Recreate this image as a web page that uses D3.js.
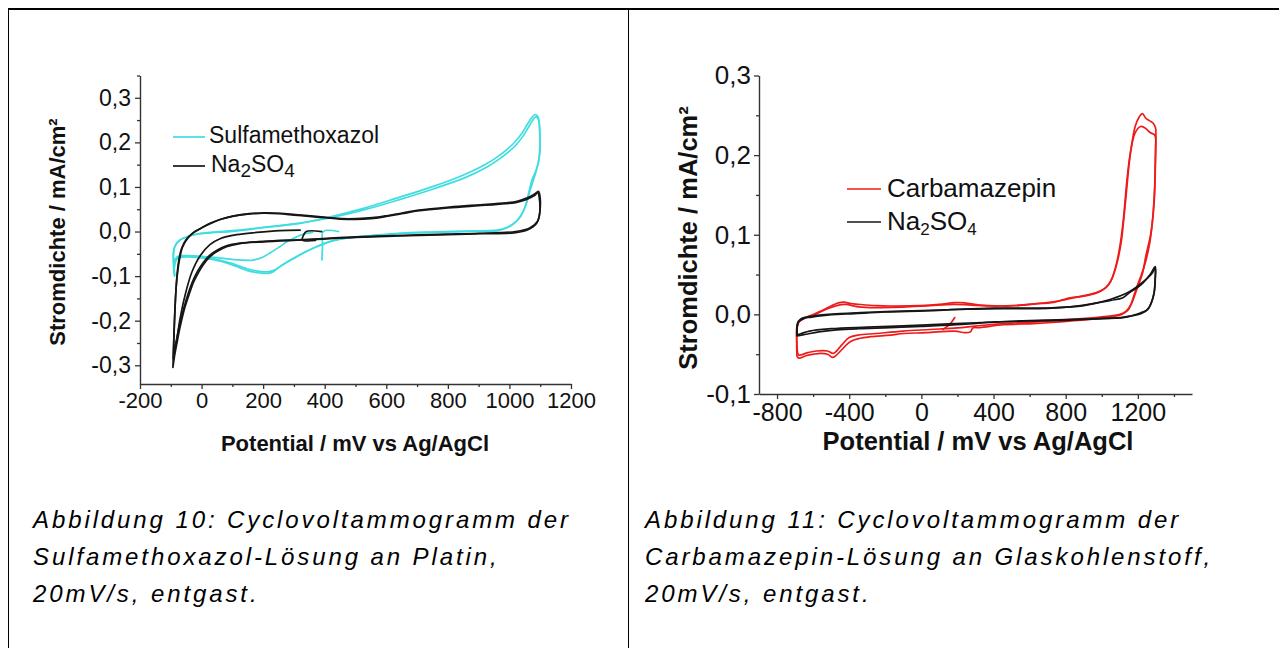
<!DOCTYPE html>
<html><head><meta charset="utf-8">
<script src="https://cdn.jsdelivr.net/npm/d3@7"></script>
<style>
body{margin:0;background:#fff}
svg{display:block}
text{font-family:"Liberation Sans",Arial,Helvetica,sans-serif}
</style>
</head><body>
<svg id="c" width="1279" height="648"></svg>
<script>
// ---------- Left panel (Platin) ----------
const leftXTicks = [-200, 0, 200, 400, 600, 800, 1000, 1200];
const leftXTickLabels = ["-200", "0", "200", "400", "600", "800", "1000", "1200"];
const leftXMinor = [-100, 100, 300, 500, 700, 900, 1100];
const leftYTicks = [-0.3, -0.2, -0.1, 0, 0.1, 0.2, 0.3];
const leftYTickLabels = ["-0,3", "-0,2", "-0,1", "0,0", "0,1", "0,2", "0,3"];
const leftYMinor = [-0.25, -0.15, -0.05, 0.05, 0.15, 0.25, 0.35];

// Sulfamethoxazol (E in mV, j in mA/cm²)
const smxStart = [[445, 0.0], [395, 0.0], [393, -0.03], [391, -0.064]];
const smxFirst = [[360, -0.002], [330, -0.006], [309, -0.012], [280, -0.022], [254, -0.034], [225, -0.047], [200, -0.057], [168, -0.064], [130, -0.064], [93, -0.062], [40, -0.058], [-15, -0.055], [-60, -0.054], [-80, -0.057], [-90, -0.068]];
const smxCycle1 = [[-88, -0.1], [-91, -0.08], [-92, -0.055], [-90, -0.04], [-82, -0.028], [-70, -0.019], [-45, -0.011], [-15, -0.006], [30, -0.003], [93, 0.0], [150, 0.004], [200, 0.009], [308, 0.017], [418, 0.033], [526, 0.052], [634, 0.075], [743, 0.099], [851, 0.127], [920, 0.15], [960, 0.167], [1014, 0.198], [1040, 0.22], [1057, 0.239], [1072, 0.255], [1083, 0.262], [1092, 0.258], [1097, 0.24],
  [1099, 0.2], [1099, 0.175], [1088, 0.14], [1073, 0.115], [1062, 0.085], [1051, 0.056], [1035, 0.033], [1014, 0.018], [990, 0.008], [960, 0.0015], [851, 0.0], [750, -0.002], [634, -0.005], [550, -0.01], [472, -0.015], [420, -0.022], [374, -0.034], [340, -0.045], [308, -0.057], [280, -0.068], [254, -0.079], [233, -0.09], [215, -0.094], [190, -0.093], [146, -0.087], [93, -0.073], [39, -0.063], [-15, -0.058], [-50, -0.057], [-69, -0.058], [-82, -0.064], [-87, -0.075], [-89, -0.09], [-88, -0.1]];
const smxCycle2 = [[-87, -0.098], [-90, -0.075], [-91, -0.05], [-88, -0.036], [-80, -0.025], [-66, -0.017], [-40, -0.01], [-10, -0.005], [40, -0.001], [100, 0.002], [160, 0.006], [220, 0.011], [320, 0.019], [420, 0.031], [530, 0.049], [640, 0.071], [750, 0.095], [860, 0.122], [930, 0.146], [970, 0.164], [1020, 0.193], [1045, 0.215], [1062, 0.234], [1076, 0.25], [1086, 0.257], [1094, 0.252], [1098, 0.232],
  [1099, 0.19], [1094, 0.155], [1080, 0.12], [1066, 0.09], [1054, 0.06], [1038, 0.036], [1018, 0.02], [992, 0.009], [960, 0.003], [860, 0.001], [750, -0.001], [640, -0.004], [550, -0.009], [475, -0.014], [425, -0.021], [380, -0.032], [345, -0.043], [312, -0.055], [283, -0.066], [258, -0.077], [238, -0.086], [220, -0.09], [195, -0.09], [150, -0.084], [95, -0.071], [40, -0.061], [-15, -0.056], [-50, -0.055], [-70, -0.057], [-83, -0.062], [-88, -0.072], [-90, -0.085], [-87, -0.098]];

// Na2SO4 on Pt
const naPtStub = [[390, 0.0], [340, 0.0], [330, -0.01], [327, -0.019], [370, -0.02]];
const naPtFirst = [[320, 0.003], [255, 0.002], [179, -0.002], [114, -0.007], [60, -0.016], [28, -0.029], [-5, -0.055], [-32, -0.092], [-54, -0.144], [-70, -0.196], [-80, -0.24], [-88, -0.27]];
const naPtCycle1 = [[-93, -0.305], [-91, -0.26], [-88, -0.2], [-84, -0.14], [-80, -0.1], [-74, -0.065], [-65, -0.038], [-50, -0.018], [-30, -0.004], [0, 0.008], [30, 0.019], [60, 0.027], [100, 0.034], [150, 0.039], [200, 0.041], [250, 0.04], [300, 0.037], [350, 0.034], [400, 0.031], [450, 0.028], [500, 0.027], [550, 0.029], [600, 0.034], [650, 0.04], [700, 0.046], [800, 0.053], [900, 0.058], [960, 0.061], [1020, 0.065], [1056, 0.072], [1080, 0.08], [1092, 0.087],
  [1097, 0.075], [1097, 0.035], [1088, 0.018], [1060, 0.004], [1015, -0.003], [900, -0.005], [800, -0.007], [634, -0.01], [500, -0.013], [418, -0.016], [331, -0.019], [200, -0.023], [124, -0.027], [81, -0.034], [50, -0.045], [25, -0.058], [5, -0.075], [-10, -0.092], [-25, -0.112], [-40, -0.14], [-55, -0.172], [-70, -0.215], [-80, -0.25], [-88, -0.28], [-93, -0.305]];
const naPtCycle2 = [[-92, -0.285], [-90, -0.24], [-87, -0.185], [-83, -0.13], [-78, -0.092], [-71, -0.06], [-62, -0.035], [-46, -0.016], [-25, -0.002], [5, 0.01], [35, 0.02], [65, 0.028], [105, 0.035], [155, 0.04], [205, 0.042], [255, 0.041], [305, 0.038], [355, 0.035], [405, 0.032], [455, 0.029], [505, 0.029], [555, 0.031], [605, 0.036], [655, 0.042], [705, 0.048], [805, 0.055], [905, 0.06], [965, 0.063], [1025, 0.068], [1060, 0.076], [1082, 0.084], [1094, 0.09],
  [1099, 0.08], [1099, 0.045], [1092, 0.024], [1066, 0.008], [1020, 0.0], [900, -0.004], [800, -0.006], [634, -0.009], [500, -0.012], [418, -0.015], [331, -0.018], [200, -0.022], [124, -0.026], [81, -0.032], [50, -0.042], [25, -0.054], [5, -0.07], [-12, -0.088], [-28, -0.11], [-44, -0.14], [-58, -0.172], [-72, -0.21], [-82, -0.245], [-89, -0.27], [-92, -0.285]];

// ---------- Right panel (Glaskohlenstoff) ----------
const rightXTicks = [-800, -400, 0, 400, 800, 1200];
const rightXTickLabels = ["-800", "-400", "0", "400", "800", "1200"];
const rightXMinor = [-600, -200, 200, 600, 1000, 1400];
const rightYTicks = [-0.1, 0, 0.1, 0.2, 0.3];
const rightYTickLabels = ["-0,1", "0,0", "0,1", "0,2", "0,3"];
const rightYMinor = [-0.05, 0.05, 0.15, 0.25];

// Carbamazepin
const cbzStart = [[185, -0.004], [170, -0.009], [155, -0.013], [120, -0.019]];
const cbzCycle1 = [[-690, -0.052], [-691, -0.035], [-690, -0.02], [-680, -0.01], [-640, -0.004], [-596, 0.0], [-550, 0.005], [-503, 0.0103], [-460, 0.0145], [-430, 0.0155], [-390, 0.0135], [-337, 0.0124], [-250, 0.011], [-172, 0.0105], [-5, 0.011], [100, 0.0125], [185, 0.0148], [240, 0.0145], [324, 0.0115], [450, 0.0105], [522, 0.0108], [641, 0.0136], [721, 0.0146], [825, 0.0207], [900, 0.023], [960, 0.026], [1000, 0.03], [1040, 0.038], [1062, 0.048], [1085, 0.065], [1107, 0.09], [1122, 0.12], [1137, 0.155], [1152, 0.19], [1167, 0.215], [1185, 0.236], [1205, 0.247], [1225, 0.252], [1245, 0.246], [1266, 0.243], [1285, 0.24], [1298, 0.234],
  [1300, 0.224], [1297, 0.19], [1291, 0.144], [1272, 0.102], [1244, 0.073], [1226, 0.052], [1205, 0.038], [1187, 0.027], [1168, 0.015], [1147, 0.006], [1120, 0.001], [1098, -0.001], [1018, -0.004], [920, -0.0065], [820, -0.0084], [700, -0.0105], [621, -0.0115], [456, -0.013], [324, -0.0167], [285, -0.017], [272, -0.022], [240, -0.023], [185, -0.021], [26, -0.023], [-97, -0.024], [-172, -0.026], [-282, -0.028], [-340, -0.03], [-393, -0.034], [-448, -0.046], [-480, -0.053], [-494, -0.054], [-520, -0.05], [-560, -0.049], [-596, -0.05], [-640, -0.052], [-679, -0.055], [-690, -0.052]];
const cbzCycle2 = [[-688, -0.045], [-688, -0.015], [-670, -0.007], [-600, -0.001], [-520, 0.007], [-470, 0.011], [-420, 0.0125], [-350, 0.0095], [-250, 0.0085], [-100, 0.009], [50, 0.011], [180, 0.0125], [260, 0.012], [400, 0.0105], [600, 0.0125], [750, 0.0165], [850, 0.021], [950, 0.026], [1020, 0.033], [1050, 0.042], [1075, 0.058], [1100, 0.085], [1120, 0.12], [1140, 0.17], [1160, 0.205], [1185, 0.228], [1215, 0.236], [1240, 0.234], [1270, 0.228], [1290, 0.226], [1298, 0.222],
  [1298, 0.21], [1293, 0.16], [1280, 0.115], [1262, 0.085], [1240, 0.064], [1220, 0.05], [1200, 0.038], [1180, 0.025], [1160, 0.012], [1135, 0.004], [1100, 0.0], [1000, -0.003], [850, -0.006], [700, -0.0085], [500, -0.011], [330, -0.014], [285, -0.015], [200, -0.017], [50, -0.019], [-100, -0.021], [-250, -0.024], [-350, -0.026], [-400, -0.029], [-440, -0.038], [-470, -0.046], [-490, -0.049], [-520, -0.046], [-580, -0.046], [-630, -0.048], [-680, -0.051], [-688, -0.045]];

// Na2SO4 on glassy carbon
const naGcCycle1 = [[-688, -0.027], [-688, -0.015], [-680, -0.009], [-650, -0.005], [-609, -0.0035], [-500, -0.0005], [-371, 0.001], [-200, 0.003], [26, 0.0045], [250, 0.0065], [456, 0.0072], [650, 0.0072], [825, 0.0095], [950, 0.0135], [1050, 0.0175], [1117, 0.021], [1157, 0.028], [1217, 0.037], [1268, 0.05], [1296, 0.06],
  [1297, 0.048], [1290, 0.027], [1275, 0.015], [1254, 0.006], [1217, 0.002], [1160, -0.002], [1117, -0.0042], [1010, -0.005], [820, -0.0071], [600, -0.0083], [423, -0.0095], [225, -0.0126], [0, -0.015], [-172, -0.0167], [-350, -0.018], [-470, -0.0195], [-569, -0.022], [-640, -0.025], [-688, -0.027]];
const naGcCycle2 = [[-690, -0.026], [-688, -0.012], [-670, -0.006], [-600, -0.002], [-450, 0.001], [-200, 0.0035], [100, 0.0055], [400, 0.0078], [700, 0.008], [900, 0.011], [1050, 0.019], [1150, 0.028], [1230, 0.041], [1280, 0.052], [1296, 0.058],
  [1296, 0.045], [1288, 0.025], [1260, 0.008], [1220, 0.001], [1100, -0.004], [900, -0.006], [600, -0.0078], [300, -0.0105], [0, -0.0135], [-300, -0.016], [-500, -0.018], [-620, -0.021], [-690, -0.026]];

// ---------- Texts ----------
const yTitle = "Stromdichte / mA/cm²";
const xTitle = "Potential / mV vs Ag/AgCl";
const leftCaption = ["Abbildung 10: Cyclovoltammogramm der", "Sulfamethoxazol-Lösung an Platin,", "20mV/s, entgast."];
const rightCaption = ["Abbildung 11: Cyclovoltammogramm der", "Carbamazepin-Lösung an Glaskohlenstoff,", "20mV/s, entgast."];

const CYAN = "#40dde0", BLACK = "#161616", RED = "#ee1b1b";

const svg = d3.select("#c");

// table frame
svg.append("rect").attr("x", 8).attr("y", 8).attr("width", 1271).attr("height", 2).attr("fill", "#000");
svg.append("line").attr("x1", 8.5).attr("x2", 8.5).attr("y1", 9).attr("y2", 648).attr("stroke", "#000").attr("stroke-width", 1);
svg.append("line").attr("x1", 628.5).attr("x2", 628.5).attr("y1", 9).attr("y2", 648).attr("stroke", "#000").attr("stroke-width", 1);

function panel(p) {
  const x = d3.scaleLinear().domain(p.xDomain).range(p.xRange);
  const y = d3.scaleLinear().domain(p.yDomain).range(p.yRange);
  const g = svg.append("g");
  const line = d3.line().x(d => x(d[0])).y(d => y(d[1])).curve(d3.curveCatmullRom.alpha(0.5));

  p.series.forEach(s => {
    g.append("path").datum(s.data).attr("d", line)
      .attr("fill", "none").attr("stroke", s.color).attr("stroke-width", 1.7)
      .attr("stroke-linejoin", "round").attr("stroke-linecap", "round");
  });

  const styleAxis = (sel, fs) => {
    sel.attr("font-family", null).attr("font-size", null);
    sel.select(".domain").attr("stroke", "#333").attr("stroke-width", 1.4);
    sel.selectAll(".tick line").attr("stroke", "#333").attr("stroke-width", 1.3);
    sel.selectAll(".tick text").attr("fill", "#111").style("font-size", fs + "px");
  };

  const gx = g.append("g").attr("transform", `translate(0,${p.yRange[0]})`)
    .call(d3.axisBottom(x).tickValues(p.xTicks).tickFormat((d, i) => p.xLabels[i])
      .tickSize(p.tick).tickSizeOuter(0).tickPadding(p.xPad));
  styleAxis(gx, p.tickFont);
  const gxm = g.append("g").attr("transform", `translate(0,${p.yRange[0]})`)
    .call(d3.axisBottom(x).tickValues(p.xMinor).tickFormat("").tickSize(p.minor).tickSizeOuter(0));
  styleAxis(gxm, p.tickFont); gxm.select(".domain").remove();

  const gy = g.append("g").attr("transform", `translate(${p.xRange[0]},0)`)
    .call(d3.axisLeft(y).tickValues(p.yTicks).tickFormat((d, i) => p.yLabels[i])
      .tickSize(p.tick).tickSizeOuter(0).tickPadding(p.yPad));
  styleAxis(gy, p.yTickFont);
  const gym = g.append("g").attr("transform", `translate(${p.xRange[0]},0)`)
    .call(d3.axisLeft(y).tickValues(p.yMinor).tickFormat("").tickSize(p.minor).tickSizeOuter(0));
  styleAxis(gym, p.tickFont); gym.select(".domain").remove();

  g.append("text").attr("x", p.xTitlePos[0]).attr("y", p.xTitlePos[1]).attr("text-anchor", "middle")
    .attr("font-weight", "bold").style("font-size", p.titleFont + "px").attr("fill", "#111").text(xTitle);
  g.append("text").attr("transform", `translate(${p.yTitlePos[0]},${p.yTitlePos[1]}) rotate(-90)`)
    .attr("text-anchor", "middle").attr("font-weight", "bold").style("font-size", p.titleFont + "px")
    .attr("fill", "#111").text(yTitle);

  // legend
  p.legend.forEach(L => {
    g.append("line").attr("x1", L.x1).attr("x2", L.x2).attr("y1", L.y).attr("y2", L.y)
      .attr("stroke", L.color).attr("stroke-width", 1.7);
    const t = g.append("text").attr("x", L.tx).attr("y", L.ty).style("font-size", p.legendFont + "px").attr("fill", "#111");
    if (L.sub) {
      t.append("tspan").text("Na");
      t.append("tspan").attr("dy", p.subShift).style("font-size", p.subFont + "px").text("2");
      t.append("tspan").attr("dy", -p.subShift).text("SO");
      t.append("tspan").attr("dy", p.subShift).style("font-size", p.subFont + "px").text("4");
    } else t.text(L.label);
  });
}

panel({
  xDomain: [-200, 1200], xRange: [140, 571],
  yDomain: [-0.342, 0.35], yRange: [384, 75.5],
  xTicks: leftXTicks, xLabels: leftXTickLabels, xMinor: leftXMinor,
  yTicks: leftYTicks, yLabels: leftYTickLabels, yMinor: leftYMinor,
  tick: 5, minor: 3, xPad: 3, yPad: 4, tickFont: 22, yTickFont: 23, titleFont: 22,
  xTitlePos: [355, 451], yTitlePos: [65, 232],
  legendFont: 23, subFont: 19, subShift: 5,
  legend: [
    {x1: 173, x2: 205, y: 137, color: CYAN, tx: 209, ty: 143, label: "Sulfamethoxazol"},
    {x1: 173, x2: 205, y: 166, color: BLACK, tx: 211, ty: 172, sub: true}
  ],
  series: [
    {data: smxStart, color: CYAN}, {data: smxFirst, color: CYAN},
    {data: smxCycle1, color: CYAN}, {data: smxCycle2, color: CYAN},
    {data: naPtStub, color: BLACK}, {data: naPtFirst, color: BLACK},
    {data: naPtCycle1, color: BLACK}, {data: naPtCycle2, color: BLACK}
  ]
});

panel({
  xDomain: [-900, 1500], xRange: [759, 1192],
  yDomain: [-0.1, 0.3], yRange: [394, 75.5],
  xTicks: rightXTicks, xLabels: rightXTickLabels, xMinor: rightXMinor,
  yTicks: rightYTicks, yLabels: rightYTickLabels, yMinor: rightYMinor,
  tick: 5, minor: 3, xPad: 4, yPad: 3, tickFont: 25, yTickFont: 26, titleFont: 25.5,
  xTitlePos: [978, 450], yTitlePos: [697, 238],
  legendFont: 26, subFont: 17, subShift: 5,
  legend: [
    {x1: 847, x2: 881, y: 189, color: RED, tx: 887, ty: 197, label: "Carbamazepin"},
    {x1: 847, x2: 881, y: 222, color: BLACK, tx: 887, ty: 230, sub: true}
  ],
  series: [
    {data: cbzStart, color: RED}, {data: cbzCycle1, color: RED}, {data: cbzCycle2, color: RED},
    {data: naGcCycle1, color: BLACK}, {data: naGcCycle2, color: BLACK}
  ]
});

// captions (italic, slightly spaced)
function caption(lines, x0) {
  lines.forEach((s, i) => {
    svg.append("text").attr("x", x0).attr("y", 528 + i * 37).attr("font-style", "italic")
      .style("font-size", "24px").style("letter-spacing", "2.9px").attr("fill", "#000").text(s);
  });
}
caption(leftCaption, 33);
caption(rightCaption, 645);
</script>
</body></html>
